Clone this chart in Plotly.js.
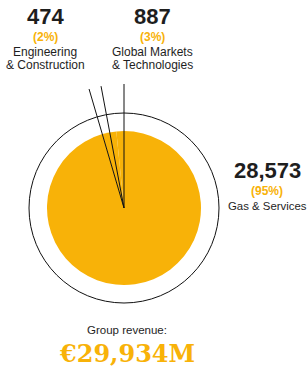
<!DOCTYPE html>
<html><head><meta charset="utf-8">
<script src="https://cdn.plot.ly/plotly-3.0.1.min.js"></script>
<style>html,body{margin:0;padding:0;background:#fff;}#chart{width:307px;height:369px;}</style>
</head><body><div id="chart"></div>
<script>
const segments = ["Gas & Services", "Engineering & Construction", "Global Markets & Technologies"];
const segmentLabelLines = [["Gas & Services"], ["Engineering", "& Construction"], ["Global Markets", "& Technologies"]];
const revenues = [28573, 474, 887];
const valueLabels = ["28,573", "474", "887"];
const percentLabels = ["(95%)", "(2%)", "(3%)"];
const totalLabel = "€29,934M";
const totalCaption = "Group revenue:";

const W = 307, H = 369;
const ORANGE = "#F8B208";
const DARK = "#1e1e1e";
const cx = 124, cy = 208, R = 77, ringR = 95, lineLen = 124;
const px = x => x / W, py = y => 1 - y / H;

const total = revenues.reduce((a, b) => a + b, 0);

const trace = {
  type: "pie",
  values: revenues,
  labels: segments,
  sort: false,
  direction: "counterclockwise",
  rotation: 0,
  marker: {colors: revenues.map(() => ORANGE), line: {width: 0}},
  textinfo: "none",
  hoverinfo: "label+value+percent",
  domain: {x: [px(cx - R), px(cx + R)], y: [py(cy + R), py(cy - R)]},
  showlegend: false
};

const shapes = [{
  type: "circle", xref: "paper", yref: "paper",
  x0: px(cx - ringR), x1: px(cx + ringR), y0: py(cy + ringR), y1: py(cy - ringR),
  line: {color: "#111", width: 1}
}];
const order = [2, 1];
let cum = 0;
const boundaries = [0];
order.forEach(i => { cum += revenues[i]; boundaries.push(cum / total); });
boundaries.forEach(f => {
  const a = f * 2 * Math.PI;
  const ex = cx - lineLen * Math.sin(a), ey = cy - lineLen * Math.cos(a);
  shapes.push({type: "line", xref: "paper", yref: "paper",
    x0: px(cx), y0: py(cy), x1: px(ex), y1: py(ey), line: {color: "#111", width: 1}});
});

const font = "Liberation Sans, Arial, sans-serif";
const annotations = [];
function ann(text, x, y, size, color, family) {
  annotations.push({xref: "paper", yref: "paper", x: px(x), y: py(y), xanchor: "center", yanchor: "middle",
    text: text, showarrow: false, borderpad: 0, font: {family: family || font, size: size, color: color}});
}
function label(i, x, yTop, lblSize) {
  ann("<b>" + valueLabels[i] + "</b>", x, yTop, 22, DARK);
  ann("<b>" + percentLabels[i] + "</b>", x, yTop + 21, 12, ORANGE);
  segmentLabelLines[i].forEach((t, k) => ann(t, x, yTop + 36 + k * 13, lblSize, DARK));
}
label(1, 45, 16, 12);
label(2, 152, 16, 12);
label(0, 267, 170, 11.4);
ann(totalCaption, 127, 330, 11.5, DARK);
ann("<b>" + totalLabel + "</b>", 127, 353, 24, ORANGE, "DejaVu Serif, serif");

Plotly.newPlot("chart", [trace], {
  width: W, height: H, margin: {l: 0, r: 0, t: 0, b: 0},
  paper_bgcolor: "#fff", plot_bgcolor: "#fff",
  shapes: shapes, annotations: annotations
}, {displayModeBar: false, staticPlot: true});
</script></body></html>
